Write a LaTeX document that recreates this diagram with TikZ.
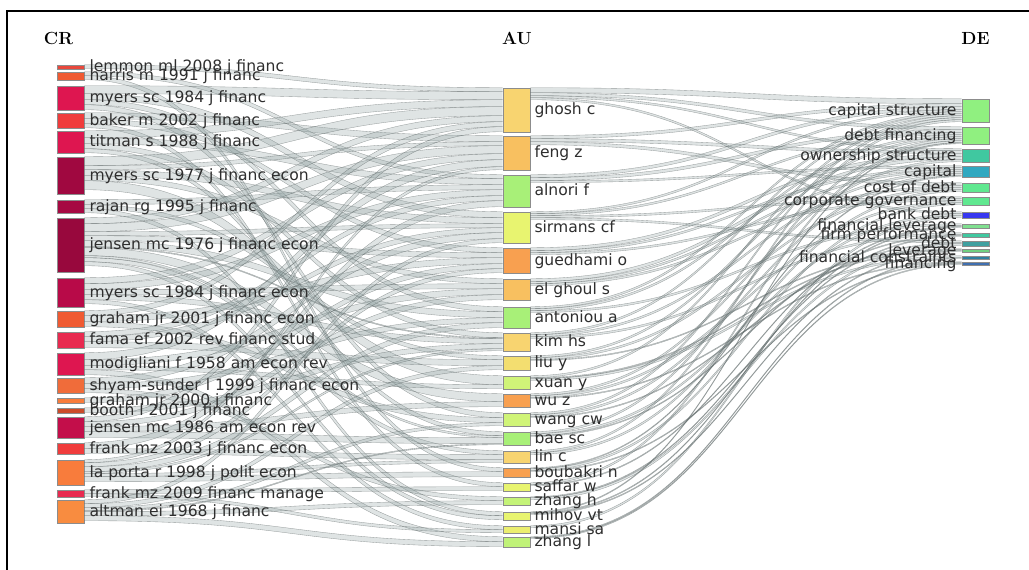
\documentclass[tikz,border=0pt]{standalone}
\usepackage{fontspec}
\setsansfont{DejaVu Sans}
\usetikzlibrary{positioning,calc}

% palette
\definecolor{crred}{HTML}{E8483C}
\definecolor{crorange}{HTML}{F05A32}
\definecolor{crcrimson}{HTML}{DE1650}
\definecolor{crscarlet}{HTML}{F03C3C}
\definecolor{crmaroon}{HTML}{A00840}
\definecolor{crwine}{HTML}{B80A48}
\definecolor{crpink}{HTML}{E82A50}
\definecolor{crtan}{HTML}{F06C3A}
\definecolor{crpeach}{HTML}{F87C3C}
\definecolor{crapricot}{HTML}{F88C40}
\definecolor{auyellow}{HTML}{F8D470}
\definecolor{auamber}{HTML}{F8C060}
\definecolor{augreen}{HTML}{A8F078}
\definecolor{aulime}{HTML}{E8F470}
\definecolor{auorange}{HTML}{F8A050}
\definecolor{auchart}{HTML}{D0F478}
\definecolor{delight}{HTML}{90F080}
\definecolor{deteal}{HTML}{40C8A0}
\definecolor{decyan}{HTML}{30A8C0}
\definecolor{demint}{HTML}{60E890}
\definecolor{deblue}{HTML}{3838F0}
\definecolor{depale}{HTML}{80E090}
\definecolor{dedark}{HTML}{40A0A0}
\definecolor{deslate}{HTML}{3080A0}
\definecolor{denavy}{HTML}{4070B0}
\definecolor{deleaf}{HTML}{70D080}
\definecolor{flowgrey}{RGB}{150,166,166}

\tikzset{
  bar/.style={shape=rectangle, draw=black!45, line width=0.5pt, inner sep=0, minimum width=8.1mm},
  tall/.style={minimum height=#1*0.3mm},
  lab/.style={font=\sffamily\fontsize{13.3}{15}\selectfont, text=black!82, inner sep=0, text height=2ex, text depth=0.2ex},
  head/.style={font=\rmfamily\bfseries\fontsize{15}{17}\selectfont, inner sep=0},
  flowfill/.style={fill=flowgrey, fill opacity=0.3},
  flowedge/.style={draw=flowgrey!55!black, draw opacity=0.55, line width=0.3pt},
}

% band from #1 (offset #2) to #3 (offset #4), #5 thick
\newcommand{\flow}[5]{%
  \path ($(#1.north east)+(0,#2)$) coordinate (fa) ($(#1.north east)+(0,#2+#5)$) coordinate (fb)
        ($(#3.north west)+(0,#4)$) coordinate (fc) ($(#3.north west)+(0,#4+#5)$) coordinate (fd);
  \fill[flowfill] (fa) .. controls +(215,0) and +(-215,0) .. (fc) -- (fd) .. controls +(-215,0) and +(215,0) .. (fb) -- cycle;
  \draw[flowedge] (fa) .. controls +(215,0) and +(-215,0) .. (fc) (fb) .. controls +(215,0) and +(-215,0) .. (fd);
}

\begin{document}
\begin{tikzpicture}[x=0.3mm, y=-0.3mm]
        \useasboundingbox (0,0) rectangle (1029,570);
        \draw[line width=0.6mm] (7,570) -- (7,11) -- (1029,11);
        % Headers:
        \node[head] (hcr) at (58.5, 38) {CR};
        \node[head] (hau) at (517, 38) {AU};
        \node[head] (hde) at (975.5, 38) {DE};
        % CR column:
        \node[bar, tall=4, fill=crred] (cr1) at (70.5, 67) {};
        \node[bar, tall=8, fill=crorange] (cr2) at (70.5, 76) {};
        \node[bar, tall=24, fill=crcrimson] (cr3) at (70.5, 98) {};
        \node[bar, tall=15, fill=crscarlet] (cr4) at (70.5, 120.5) {};
        \node[bar, tall=22, fill=crcrimson] (cr5) at (70.5, 142) {};
        \node[bar, tall=37, fill=crmaroon] (cr6) at (70.5, 175.5) {};
        \node[bar, tall=13, fill=crmaroon!90!crcrimson] (cr7) at (70.5, 206.5) {};
        \node[bar, tall=54, fill=crmaroon!95!black] (cr8) at (70.5, 245) {};
        \node[bar, tall=29, fill=crwine] (cr9) at (70.5, 292.5) {};
        \node[bar, tall=16, fill=crorange] (cr10) at (70.5, 319) {};
        \node[bar, tall=16, fill=crpink] (cr11) at (70.5, 340) {};
        \node[bar, tall=22, fill=crcrimson] (cr12) at (70.5, 364) {};
        \node[bar, tall=15, fill=crtan] (cr13) at (70.5, 385.5) {};
        \node[bar, tall=5, fill=crpeach] (cr14) at (70.5, 400.5) {};
        \node[bar, tall=5, fill=crorange!85!black] (cr15) at (70.5, 410.5) {};
        \node[bar, tall=21, fill=crwine!70!crcrimson] (cr16) at (70.5, 427.5) {};
        \node[bar, tall=11, fill=crscarlet] (cr17) at (70.5, 448.5) {};
        \node[bar, tall=25, fill=crpeach] (cr18) at (70.5, 472.5) {};
        \node[bar, tall=7, fill=crpink] (cr19) at (70.5, 493.5) {};
        \node[bar, tall=23, fill=crapricot] (cr20) at (70.5, 511.5) {};
        % AU column:
        \node[bar, tall=44, fill=auyellow] (au1) at (516.5, 110) {};
        \node[bar, tall=34, fill=auamber] (au2) at (516.5, 153) {};
        \node[bar, tall=32, fill=augreen] (au3) at (516.5, 191) {};
        \node[bar, tall=31, fill=aulime] (au4) at (516.5, 227.5) {};
        \node[bar, tall=25, fill=auorange] (au5) at (516.5, 260.5) {};
        \node[bar, tall=21, fill=auamber] (au6) at (516.5, 289.5) {};
        \node[bar, tall=21, fill=augreen] (au7) at (516.5, 317.5) {};
        \node[bar, tall=18, fill=auyellow] (au8) at (516.5, 342) {};
        \node[bar, tall=14, fill=auyellow!70!aulime] (au9) at (516.5, 363) {};
        \node[bar, tall=13, fill=auchart] (au10) at (516.5, 382.5) {};
        \node[bar, tall=13, fill=auorange] (au11) at (516.5, 400.5) {};
        \node[bar, tall=13, fill=auchart] (au12) at (516.5, 419.5) {};
        \node[bar, tall=13, fill=augreen] (au13) at (516.5, 438.5) {};
        \node[bar, tall=12, fill=auyellow] (au14) at (516.5, 457) {};
        \node[bar, tall=9, fill=auorange] (au15) at (516.5, 472.5) {};
        \node[bar, tall=8, fill=aulime] (au16) at (516.5, 487) {};
        \node[bar, tall=8, fill=auchart!70!augreen] (au17) at (516.5, 501) {};
        \node[bar, tall=8, fill=aulime] (au18) at (516.5, 516) {};
        \node[bar, tall=7, fill=aulime!80!auyellow] (au19) at (516.5, 529.5) {};
        \node[bar, tall=10, fill=auchart!60!augreen] (au20) at (516.5, 542) {};
        % DE column:
        \node[bar, tall=23, fill=delight] (de1) at (975.5, 110.5) {};
        \node[bar, tall=17, fill=delight] (de2) at (975.5, 135.5) {};
        \node[bar, tall=13, fill=deteal] (de3) at (975.5, 155.5) {};
        \node[bar, tall=11, fill=decyan] (de4) at (975.5, 171.5) {};
        \node[bar, tall=9, fill=demint] (de5) at (975.5, 187.5) {};
        \node[bar, tall=8, fill=demint] (de6) at (975.5, 201) {};
        \node[bar, tall=6, fill=deblue] (de7) at (975.5, 215) {};
        \node[bar, tall=4, fill=depale] (de8) at (975.5, 226) {};
        \node[bar, tall=4, fill=deteal] (de9) at (975.5, 235) {};
        \node[bar, tall=5, fill=dedark] (de10) at (975.5, 243.5) {};
        \node[bar, tall=3, fill=deleaf] (de11) at (975.5, 250.5) {};
        \node[bar, tall=3, fill=deslate] (de12) at (975.5, 257.5) {};
        \node[bar, tall=3, fill=denavy] (de13) at (975.5, 263.5) {};
        % Bands CR -> AU:
        \foreach \s/\a/\t/\b/\w in {cr1/0/au1/0/4, cr2/0/au3/0/4, cr2/4/au15/0/4,
            cr3/0/au1/4/8, cr3/8/au4/0/6, cr3/14/au7/0/5, cr3/19/au12/0/5,
            cr4/0/au2/0/6, cr4/6/au5/0/5, cr4/11/au16/0/4,
            cr5/0/au1/12/7, cr5/7/au3/4/6, cr5/13/au8/0/5, cr5/18/au13/0/4,
            cr6/0/au1/19/9, cr6/9/au2/6/4, cr6/13/au4/6/6, cr6/19/au6/0/5, cr6/24/au10/0/9,
            cr7/0/au3/10/5, cr7/5/au9/0/4, cr7/9/au18/0/4,
            cr8/0/au1/28/6, cr8/6/au2/10/8, cr8/14/au4/12/4, cr8/18/au5/5/5, cr8/23/au7/5/6,
            cr8/29/au8/5/1, cr8/30/au11/0/8, cr8/38/au13/4/2, cr8/40/au14/0/4, cr8/44/au18/4/4,
            cr9/0/au2/18/6, cr9/6/au3/15/6, cr9/12/au6/5/5, cr9/17/au8/6/5, cr9/22/au19/0/4,
            cr10/0/au1/34/5, cr10/5/au5/10/6, cr10/11/au12/5/5,
            cr11/0/au3/21/5, cr11/5/au4/16/5, cr11/10/au9/4/6,
            cr12/0/au2/24/7, cr12/7/au6/10/6, cr12/13/au10/9/4, cr12/17/au20/0/5,
            cr13/0/au4/21/6, cr13/6/au7/11/5, cr13/11/au17/0/4,
            cr14/0/au5/16/5, cr15/0/au8/11/5,
            cr16/0/au1/39/5, cr16/5/au6/16/5, cr16/10/au11/8/5, cr16/15/au13/6/6,
            cr17/0/au3/26/6, cr17/6/au14/4/5,
            cr18/0/au2/31/3, cr18/3/au5/21/4, cr18/7/au7/16/5, cr18/12/au8/16/2, cr18/14/au14/9/3, cr18/17/au15/4/5,
            cr19/0/au16/4/4, cr19/4/au19/4/3,
            cr20/0/au4/27/4, cr20/4/au9/10/4, cr20/8/au12/10/3, cr20/11/au13/12/1, cr20/12/au17/4/4, cr20/16/au20/5/5}
            {\flow{\s}{\a}{\t}{\b}{\w}}
        % Bands AU -> DE:
        \foreach \s/\a/\t/\b/\w in {au1/0/de1/0/5, au1/5/de2/0/3, au1/8/de3/0/2, au1/10/de7/0/2,
            au2/0/de1/5/3, au2/3/de3/2/3, au2/6/de5/0/3,
            au3/0/de1/8/3, au3/3/de2/3/3, au3/6/de4/0/2,
            au4/0/de1/11/2, au4/2/de2/6/2, au4/4/de6/0/2, au4/6/de10/0/2,
            au5/0/de3/5/3, au5/3/de4/2/2, au5/5/de6/2/2,
            au6/0/de3/8/3, au6/3/de4/4/2, au6/5/de5/3/2,
            au7/0/de1/13/2, au7/2/de2/8/2, au7/4/de8/0/2,
            au8/0/de1/15/2, au8/2/de4/6/2, au8/4/de9/0/2,
            au9/0/de2/10/2, au9/2/de5/5/2, au9/4/de11/0/1,
            au10/0/de1/17/2, au10/2/de11/1/1, au10/3/de12/0/2,
            au11/0/de3/11/2, au11/2/de6/4/2, au11/4/de13/0/1,
            au12/0/de1/19/2, au12/2/de4/8/2, au12/4/de10/2/1,
            au13/0/de2/12/2, au13/2/de7/2/2, au13/4/de9/2/1,
            au14/0/de1/21/2, au14/2/de5/7/2,
            au15/0/de4/10/1, au15/1/de6/6/2, au15/3/de13/1/1,
            au16/0/de2/14/2, au16/2/de8/2/1,
            au17/0/de9/3/1, au17/1/de10/3/2,
            au18/0/de2/16/1, au18/1/de8/3/1, au18/2/de11/2/1,
            au19/0/de7/4/2, au20/0/de12/2/1, au20/1/de13/2/1}
            {\flow{\s}{\a}{\t}{\b}{\w}}
        % Labels:
        \node[lab, right=1.5mm of cr1] (cr1l) {lemmon ml 2008 j financ};
        \node[lab, right=1.5mm of cr2] (cr2l) {harris m 1991 j financ};
        \node[lab, right=1.5mm of cr3] (cr3l) {myers sc 1984 j financ};
        \node[lab, right=1.5mm of cr4] (cr4l) {baker m 2002 j financ};
        \node[lab, right=1.5mm of cr5] (cr5l) {titman s 1988 j financ};
        \node[lab, right=1.5mm of cr6] (cr6l) {myers sc 1977 j financ econ};
        \node[lab, right=1.5mm of cr7] (cr7l) {rajan rg 1995 j financ};
        \node[lab, right=1.5mm of cr8] (cr8l) {jensen mc 1976 j financ econ};
        \node[lab, right=1.5mm of cr9] (cr9l) {myers sc 1984 j financ econ};
        \node[lab, right=1.5mm of cr10] (cr10l) {graham jr 2001 j financ econ};
        \node[lab, right=1.5mm of cr11] (cr11l) {fama ef 2002 rev financ stud};
        \node[lab, right=1.5mm of cr12] (cr12l) {modigliani f 1958 am econ rev};
        \node[lab, right=1.5mm of cr13] (cr13l) {shyam-sunder l 1999 j financ econ};
        \node[lab, right=1.5mm of cr14] (cr14l) {graham jr 2000 j financ};
        \node[lab, right=1.5mm of cr15] (cr15l) {booth l 2001 j financ};
        \node[lab, right=1.5mm of cr16] (cr16l) {jensen mc 1986 am econ rev};
        \node[lab, right=1.5mm of cr17] (cr17l) {frank mz 2003 j financ econ};
        \node[lab, right=1.5mm of cr18] (cr18l) {la porta r 1998 j polit econ};
        \node[lab, right=1.5mm of cr19] (cr19l) {frank mz 2009 financ manage};
        \node[lab, right=1.5mm of cr20] (cr20l) {altman ei 1968 j financ};
        \node[lab, right=1.2mm of au1] (au1l) {ghosh c};
        \node[lab, right=1.2mm of au2] (au2l) {feng z};
        \node[lab, right=1.2mm of au3] (au3l) {alnori f};
        \node[lab, right=1.2mm of au4] (au4l) {sirmans cf};
        \node[lab, right=1.2mm of au5] (au5l) {guedhami o};
        \node[lab, right=1.2mm of au6] (au6l) {el ghoul s};
        \node[lab, right=1.2mm of au7] (au7l) {antoniou a};
        \node[lab, right=1.2mm of au8] (au8l) {kim hs};
        \node[lab, right=1.2mm of au9] (au9l) {liu y};
        \node[lab, right=1.2mm of au10] (au10l) {xuan y};
        \node[lab, right=1.2mm of au11] (au11l) {wu z};
        \node[lab, right=1.2mm of au12] (au12l) {wang cw};
        \node[lab, right=1.2mm of au13] (au13l) {bae sc};
        \node[lab, right=1.2mm of au14] (au14l) {lin c};
        \node[lab, right=1.2mm of au15] (au15l) {boubakri n};
        \node[lab, right=1.2mm of au16] (au16l) {saffar w};
        \node[lab, right=1.2mm of au17] (au17l) {zhang h};
        \node[lab, right=1.2mm of au18] (au18l) {mihov vt};
        \node[lab, right=1.2mm of au19] (au19l) {mansi sa};
        \node[lab, right=1.2mm of au20] (au20l) {zhang l};
        \node[lab, left=1.5mm of de1] (de1l) {capital structure};
        \node[lab, left=1.5mm of de2] (de2l) {debt financing};
        \node[lab, left=1.5mm of de3] (de3l) {ownership structure};
        \node[lab, left=1.5mm of de4] (de4l) {capital};
        \node[lab, left=1.5mm of de5] (de5l) {cost of debt};
        \node[lab, left=1.5mm of de6] (de6l) {corporate governance};
        \node[lab, left=1.5mm of de7] (de7l) {bank debt};
        \node[lab, left=1.5mm of de8] (de8l) {financial leverage};
        \node[lab, left=1.5mm of de9] (de9l) {firm performance};
        \node[lab, left=1.5mm of de10] (de10l) {debt};
        \node[lab, left=1.5mm of de11] (de11l) {leverage};
        \node[lab, left=1.5mm of de12] (de12l) {financial constraints};
        \node[lab, left=1.5mm of de13] (de13l) {financing};
      \end{tikzpicture}
\end{document}
